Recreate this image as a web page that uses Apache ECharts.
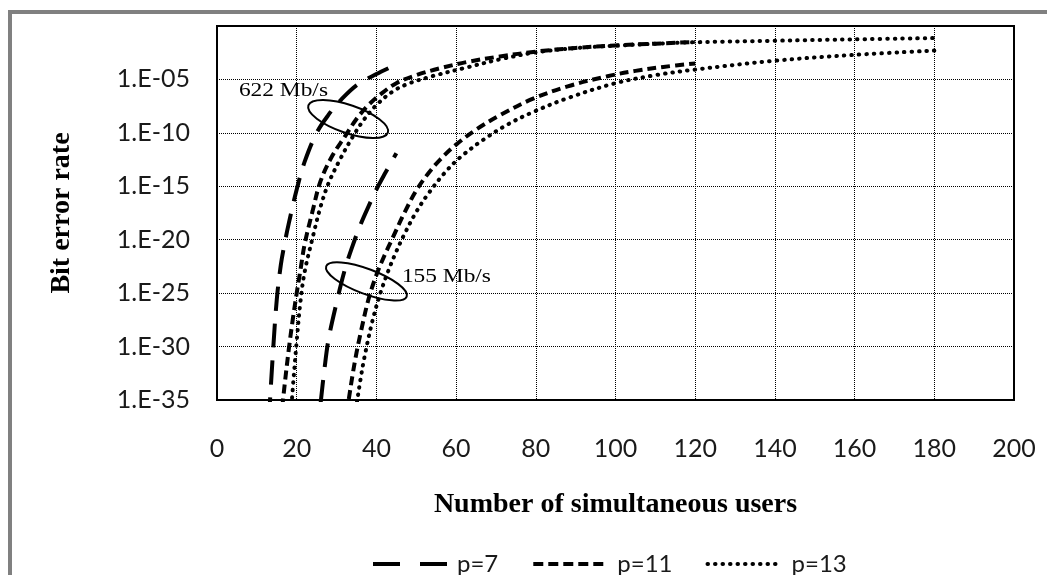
<!DOCTYPE html>
<html>
<head>
<meta charset="utf-8">
<script src="https://cdn.jsdelivr.net/npm/echarts@6/dist/echarts.min.js"></script>
<style>
html,body{margin:0;padding:0;background:#fff;}
#c{width:1047px;height:575px;}
</style>
</head>
<body>
<div id="c"></div>
<script>
// ---------- DATA (x = number of simultaneous users, y = log10 of bit error rate) ----------
const xTicks = [0, 20, 40, 60, 80, 100, 120, 140, 160, 180, 200];
const yTickExponents = [-35, -30, -25, -20, -15, -10, -5, 0];
const legendNames = ['p=7', 'p=11', 'p=13'];

// 622 Mb/s group
const p7_622 = [[13,-37],[14,-30.8],[15,-25.6],[16,-22.4],[17,-20.3],[18,-18.5],[20,-15.3],[22,-12.7],[25,-10.0],[28,-8.3],[31,-6.95],[35,-5.55],[40,-4.5],[43,-3.95]];
const p11_622 = [[16,-37],[17,-33.5],[18,-30.3],[19,-27.5],[20,-25],[21,-22.7],[22,-20.4],[24,-17.3],[26,-14.5],[29,-12.1],[32,-10.4],[35,-8.7],[38,-7.4],[41,-6.4],[45,-5.35],[50,-4.6],[56,-3.95],[63,-3.35],[71,-2.85],[80,-2.4],[90,-2.05],[100,-1.82],[110,-1.65],[120,-1.5]];
const p13_622 = [[18,-39],[19,-34],[20,-29.5],[21,-25.6],[22,-23],[24,-19.8],[26,-16.9],[28,-14.7],[31,-12.4],[34,-10.4],[37,-8.7],[40,-7.4],[44,-6.15],[48,-5.4],[54,-4.7],[63,-3.85],[71,-3.12],[80,-2.47],[90,-2.07],[100,-1.84],[110,-1.66],[120,-1.52],[140,-1.38],[160,-1.25],[180,-1.13]];

// 155 Mb/s group
const p7_155 = [[25,-38.8],[26,-35.3],[27,-32],[28,-29.3],[30,-25.9],[32,-22.9],[34,-20.6],[36,-18.6],[38,-16.9],[40,-15.3],[42,-13.9],[45,-11.9]];
const p11_155 = [[32,-37.5],[33,-35.1],[34,-32.7],[35,-30.6],[36,-28.8],[38,-25.6],[40,-23.3],[42,-21.5],[44,-19.9],[47,-17.5],[50,-15.4],[53,-13.8],[56,-12.5],[60,-11.1],[65,-9.7],[71,-8.35],[79,-6.85],[88,-5.65],[98,-4.7],[105,-4.2],[112,-3.83],[120,-3.5]];
const p13_155 = [[34,-38],[35,-35.5],[36,-33.1],[37,-31],[39,-27.6],[41,-25],[43,-22.9],[45,-21.1],[47,-19.5],[50,-17.4],[53,-15.7],[57,-13.8],[61,-12.3],[67,-10.6],[73,-9.2],[79,-8.1],[88,-6.75],[100,-5.35],[110,-4.6],[120,-4.08],[140,-3.25],[160,-2.7],[180,-2.3]];

// annotations (data coordinates)
const annotationLabels = ['622 Mb/s', '155 Mb/s'];
const annotationLabelAt = [[5.5, -6.1], [46.4, -23.5]];
const annotationEllipseAt = [[32.9, -8.7], [37.5, -23.9]];

// ---------- STYLES ----------
const dashStyles = {
  'p=7':  {type: [24, 13], width: 4, cap: 'butt'},
  'p=11': {type: [9, 5], width: 4, cap: 'butt'},
  'p=13': {type: [0.5, 7], width: 4, cap: 'round'}
};
const legendDash = {
  'p=7':  {type: [27, 20], width: 4, cap: 'butt', color: '#000'},
  'p=11': {type: [10, 5], width: 4, cap: 'butt', color: '#000'},
  'p=13': {type: [0.5, 7], width: 4, cap: 'round', color: '#000'}
};
const tickFont = 'Lato';

function mkSeries(name, data) {
  return {
    name: name, type: 'line', data: data, symbol: 'none', showSymbol: false,
    smooth: 0.35, clip: true,
    lineStyle: Object.assign({color: '#000'}, dashStyles[name]),
    itemStyle: {color: '#000'},
    silent: true, animation: false
  };
}

function fmtExp(v) {
  if (v === 0) return '';
  const a = Math.abs(v);
  return '1.E' + (v < 0 ? '-' : '+') + (a < 10 ? '0' + a : '' + a);
}

const option = {
  backgroundColor: '#fff',
  animation: false,
  grid: {left: 217, right: 33, top: 26, bottom: 175, show: true, borderColor: '#000', borderWidth: 2, containLabel: false},
  xAxis: {
    type: 'value', min: xTicks[0], max: xTicks[xTicks.length - 1], interval: 20,
    axisLine: {show: true, lineStyle: {color: '#000', width: 2}},
    axisTick: {show: false},
    axisLabel: {fontFamily: tickFont, fontSize: 25, color: '#1a1a1a', margin: 36},
    splitLine: {show: true, lineStyle: {color: '#000', type: [1, 1], width: 1}},
    name: 'Number of simultaneous users', nameLocation: 'middle', nameGap: 91,
    nameTextStyle: {fontFamily: 'Liberation Serif', fontWeight: 'bold', fontSize: 28, color: '#000'}
  },
  yAxis: {
    type: 'value', min: yTickExponents[0], max: yTickExponents[yTickExponents.length - 1], interval: 5,
    axisLine: {show: true, lineStyle: {color: '#000', width: 2}},
    axisTick: {show: false},
    axisLabel: {fontFamily: tickFont, fontSize: 25, color: '#1a1a1a', margin: 27, formatter: fmtExp, showMaxLabel: false},
    splitLine: {show: true, lineStyle: {color: '#000', type: [1, 1], width: 1}},
    name: 'Bit error rate', nameLocation: 'middle', nameGap: 141, nameRotate: 90,
    nameTextStyle: {fontFamily: 'Liberation Serif', fontWeight: 'bold', fontSize: 28, color: '#000'}
  },
  legend: {
    left: 366, top: 547, itemWidth: 74, itemHeight: 14, itemGap: 33,
    textStyle: {fontFamily: tickFont, fontSize: 24, color: '#1a1a1a', padding: [0, 0, 0, 5]},
    data: legendNames.map(n => ({
      name: n,
      lineStyle: legendDash[n],
      itemStyle: {color: 'rgba(0,0,0,0)', borderWidth: 0, opacity: 0}
    }))
  },
  series: [
    mkSeries('p=7', p7_622), mkSeries('p=11', p11_622), mkSeries('p=13', p13_622),
    mkSeries('p=7', p7_155), mkSeries('p=11', p11_155), mkSeries('p=13', p13_155)
  ]
};

const chart = echarts.init(document.getElementById('c'));
chart.setOption(option);

const graphics = [
  {type: 'rect', shape: {x: 8, y: 10, width: 1039, height: 4}, style: {fill: '#808080'}, silent: true},
  {type: 'rect', shape: {x: 8, y: 10, width: 4, height: 565}, style: {fill: '#808080'}, silent: true}
];
const ellipseR = [[42, 14], [43, 12.5]];
const ellipseRot = [-0.33, -0.36];
annotationEllipseAt.forEach((p, i) => {
  const px = chart.convertToPixel({gridIndex: 0}, p);
  graphics.push({type: 'ellipse', x: px[0], y: px[1], rotation: ellipseRot[i],
    shape: {cx: 0, cy: 0, rx: ellipseR[i][0], ry: ellipseR[i][1]},
    style: {fill: 'none', stroke: '#000', lineWidth: 2}, silent: true, z: 10});
});
annotationLabelAt.forEach((p, i) => {
  const px = chart.convertToPixel({gridIndex: 0}, p);
  graphics.push({type: 'text', x: px[0], y: px[1], scaleX: 1.3,
    style: {text: annotationLabels[i], fontFamily: 'Liberation Serif', fontSize: 18, fill: '#000', align: 'left', verticalAlign: 'middle'},
    silent: true, z: 10});
});
chart.setOption({graphic: graphics});
</script>
</body>
</html>
